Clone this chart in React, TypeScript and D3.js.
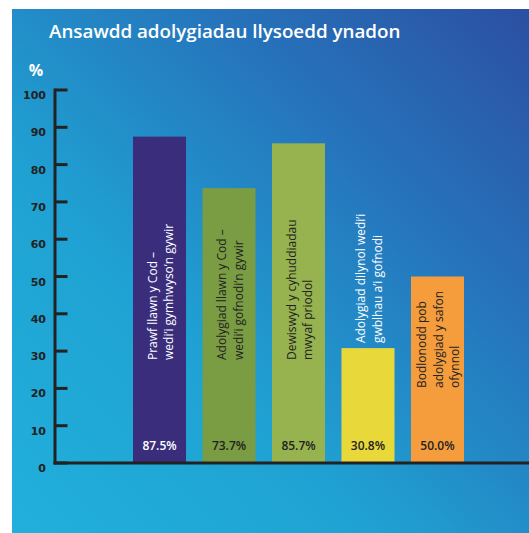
import React from "react";
import * as d3 from "d3";

const categories = ["c1", "c2", "c3", "c4", "c5"];
const values = [87.5, 73.7, 85.7, 30.8, 50.0];
const valueLabels = ["87.5%", "73.7%", "85.7%", "30.8%", "50.0%"];
const barLabels = [
  ["Prawf llawn y Cod –", "wedi’i gymhwyso’n gywir"],
  ["Adolygiad llawn y Cod –", "wedi’i gofnodi’n gywir"],
  ["Dewiswyd y cyhuddiadau", "mwyaf priodol"],
  ["Adolygiad dilynol wedi’i", "gwblhau a’i gofnodi"],
  ["Bodlonodd pob", "adolygiad y safon", "ofynnol"],
];
const barColors = ["#392d7c", "#7a9c43", "#96b350", "#e8d83a", "#f59d3d"];
const valueTextColors = ["#ffffff", "#222222", "#222222", "#222222", "#222222"];
const labelTextColors = ["#ffffff", "#222222", "#222222", "#ffffff", "#222222"];
const yTicks = [0, 10, 20, 30, 40, 50, 60, 70, 80, 90, 100];
const title = "Ansawdd adolygiadau llysoedd ynadon";

export default function App() {
  const W = 529, H = 533;
  const y = d3.scaleLinear().domain([0, 100]).range([463, 90]);
  const x = d3.scaleBand().domain(categories).range([133, 464]).paddingInner(0.237).paddingOuter(0);
  const axisX = 55;
  const font = "'Open Sans', 'Noto Sans', sans-serif";
  return (
    <svg width={W} height={H} style={{ position: "absolute", left: 0, top: 0 }}>
      <defs>
        <linearGradient id="bg" x1="0" y1="1" x2="1" y2="0">
          <stop offset="0" stopColor="#21b0db" />
          <stop offset="0.35" stopColor="#1fa2d3" />
          <stop offset="0.7" stopColor="#2673bb" />
          <stop offset="1" stopColor="#2c4fa2" />
        </linearGradient>
      </defs>
      <rect x={0} y={0} width={W} height={H} fill="#ffffff" />
      <rect x={12} y={9} width={W - 12} height={H - 9} fill="url(#bg)" />
      <text x={49} y={38} fill="#ffffff" fontFamily={font} fontWeight={600} fontSize={18.8}>
        {title}
      </text>
      <text x={36} y={76} fill="#ffffff" fontFamily={font} fontWeight={700} fontSize={16} textAnchor="middle">
        %
      </text>
      {categories.map((c, i) => (
        <rect key={c} x={x(c)} y={y(values[i])} width={x.bandwidth()} height={y(0) - y(values[i])} fill={barColors[i]} />
      ))}
      <line x1={axisX} x2={axisX} y1={y(100) - 1.5} y2={y(0) + 1.5} stroke="#222" strokeWidth={3} />
      <line x1={axisX - 1.5} x2={W} y1={y(0)} y2={y(0)} stroke="#222" strokeWidth={3} />
      {yTicks.map((t) => (
        <g key={t}>
          <line x1={axisX} x2={axisX + 12.5} y1={y(t)} y2={y(t)} stroke="#222" strokeWidth={3} />
          <text x={46} y={y(t) + 9} textAnchor="end" fill="#222" fontFamily="'DejaVu Sans', sans-serif" fontWeight={700} fontSize={11}>
            {t}
          </text>
        </g>
      ))}
      {categories.map((c, i) => (
        <text key={c} x={x(c)! + x.bandwidth() / 2} y={450} textAnchor="middle" fill={valueTextColors[i]} fontFamily={font} fontWeight={600} fontSize={12}>
          {valueLabels[i]}
        </text>
      ))}
      {categories.map((c, i) => {
        const lines = barLabels[i];
        const cx = x(c)! + x.bandwidth() / 2 + 1;
        const startY = i === 3 ? y(values[i]) - 5 : i === 4 ? 388 : 360;
        const spacing = 16.5;
        return (
          <g key={c}>
            {lines.map((ln, j) => {
              const lx = cx + (j - (lines.length - 1) / 2) * spacing + 4.5;
              return (
                <text key={j} transform={`translate(${lx},${startY}) rotate(-90)`} fill={labelTextColors[i]} fontFamily={font} fontWeight={500} fontSize={12}>
                  {ln}
                </text>
              );
            })}
          </g>
        );
      })}
    </svg>
  );
}
